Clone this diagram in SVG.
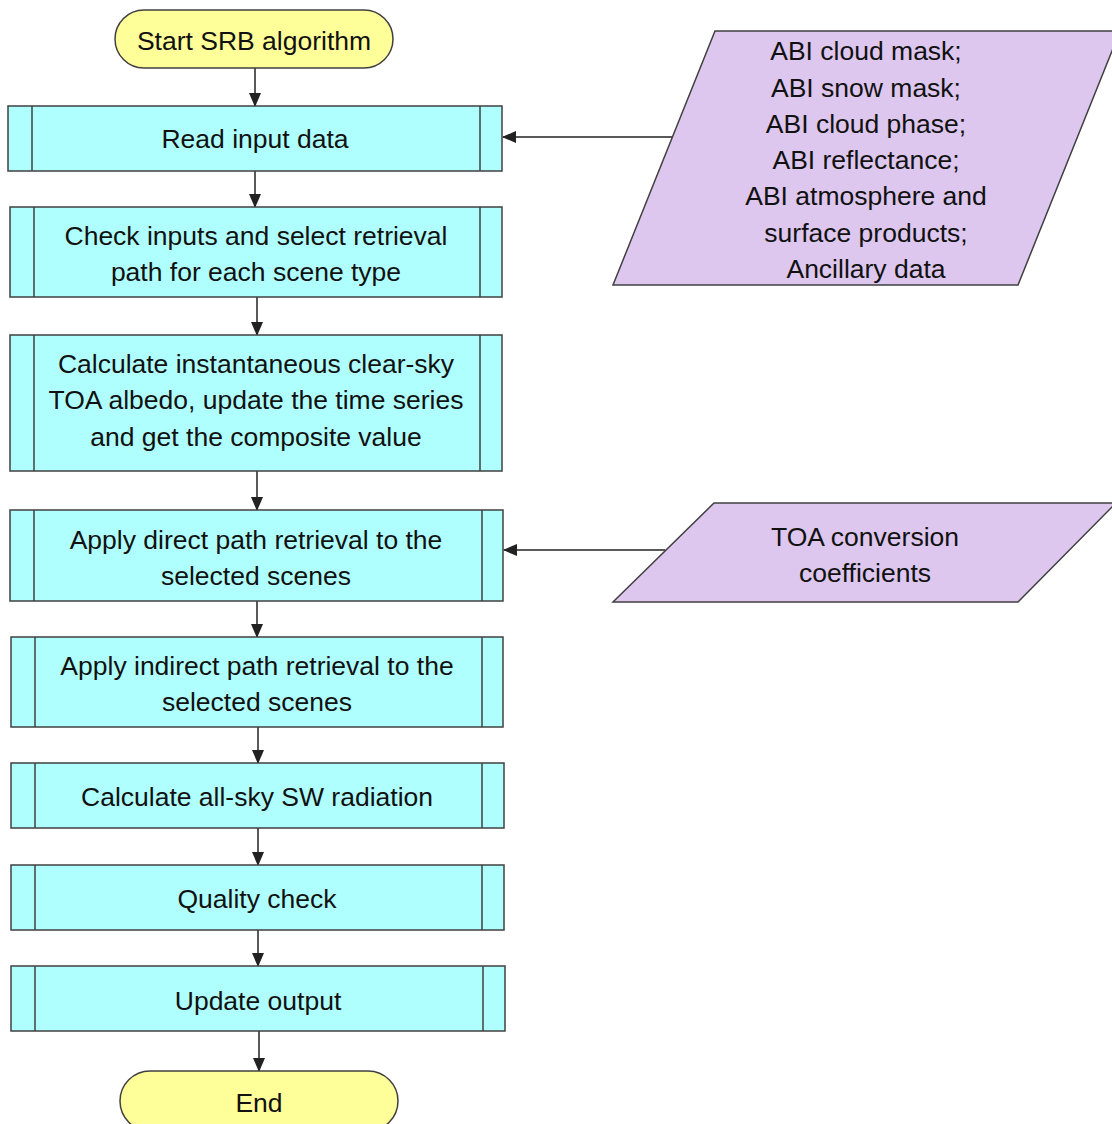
<svg xmlns="http://www.w3.org/2000/svg" width="1112" height="1124" viewBox="0 0 1112 1124">
<defs>
<marker id="ah" markerWidth="14" markerHeight="14" refX="13" refY="7" orient="auto" markerUnits="userSpaceOnUse">
<path d="M0,1 L14,7 L0,13 Z" fill="#222"/>
</marker>
<style>
.t{font-family:"Liberation Sans",Arial,sans-serif;font-size:26.5px;fill:#111;text-anchor:middle}
.proc{fill:#B0FFFF;stroke:#404040;stroke-width:1.5}
.term{fill:#FFFF99;stroke:#404040;stroke-width:1.5}
.io{fill:#DDC7EE;stroke:#404040;stroke-width:1.5}
.ln{stroke:#404040;stroke-width:1.5;fill:none}
.c{stroke:#222;stroke-width:1.5;fill:none;marker-end:url(#ah)}
</style>
</defs>
<rect width="1112" height="1124" fill="#fff"/>
<g id="connectors">
<line class="c" x1="255" y1="68" x2="255" y2="106"/>
<line class="c" x1="255" y1="171" x2="255" y2="207"/>
<line class="c" x1="257" y1="297" x2="257" y2="335"/>
<line class="c" x1="257" y1="471" x2="257" y2="510"/>
<line class="c" x1="257" y1="601" x2="257" y2="637"/>
<line class="c" x1="258" y1="727" x2="258" y2="763"/>
<line class="c" x1="258" y1="828" x2="258" y2="865"/>
<line class="c" x1="258" y1="930" x2="258" y2="966"/>
<line class="c" x1="259" y1="1031" x2="259" y2="1071"/>
<line class="c" x1="672" y1="137" x2="503" y2="137"/>
<line class="c" x1="665" y1="550" x2="504" y2="550"/>
</g>
<g id="start">
<rect class="term" x="115" y="10" width="278" height="58" rx="29" ry="29"/>
<text class="t" x="254" y="50">Start SRB algorithm</text>
</g>
<g id="read">
<rect class="proc" x="8" y="106" width="494" height="65"/>
<line class="ln" x1="32" y1="106" x2="32" y2="171"/>
<line class="ln" x1="480" y1="106" x2="480" y2="171"/>
<text class="t" x="255" y="148">Read input data</text>
</g>
<g id="check">
<rect class="proc" x="10" y="207" width="492" height="90"/>
<line class="ln" x1="34" y1="207" x2="34" y2="297"/>
<line class="ln" x1="480" y1="207" x2="480" y2="297"/>
<text class="t" x="256" y="245">Check inputs and select retrieval</text>
<text class="t" x="256" y="281">path for each scene type</text>
</g>
<g id="calc">
<rect class="proc" x="10" y="335" width="492" height="136"/>
<line class="ln" x1="34" y1="335" x2="34" y2="471"/>
<line class="ln" x1="480" y1="335" x2="480" y2="471"/>
<text class="t" x="256" y="373">Calculate instantaneous clear-sky</text>
<text class="t" x="256" y="409">TOA albedo, update the time series</text>
<text class="t" x="256" y="446">and get the composite value</text>
</g>
<g id="direct">
<rect class="proc" x="10" y="510" width="493" height="91"/>
<line class="ln" x1="34" y1="510" x2="34" y2="601"/>
<line class="ln" x1="482" y1="510" x2="482" y2="601"/>
<text class="t" x="256" y="549">Apply direct path retrieval to the</text>
<text class="t" x="256" y="585">selected scenes</text>
</g>
<g id="indirect">
<rect class="proc" x="11" y="637" width="492" height="90"/>
<line class="ln" x1="35" y1="637" x2="35" y2="727"/>
<line class="ln" x1="482" y1="637" x2="482" y2="727"/>
<text class="t" x="257" y="675">Apply indirect path retrieval to the</text>
<text class="t" x="257" y="711">selected scenes</text>
</g>
<g id="allsky">
<rect class="proc" x="11" y="763" width="493" height="65"/>
<line class="ln" x1="35" y1="763" x2="35" y2="828"/>
<line class="ln" x1="482" y1="763" x2="482" y2="828"/>
<text class="t" x="257" y="806">Calculate all-sky SW radiation</text>
</g>
<g id="quality">
<rect class="proc" x="11" y="865" width="493" height="65"/>
<line class="ln" x1="35" y1="865" x2="35" y2="930"/>
<line class="ln" x1="482" y1="865" x2="482" y2="930"/>
<text class="t" x="257" y="908">Quality check</text>
</g>
<g id="update">
<rect class="proc" x="11" y="966" width="494" height="65"/>
<line class="ln" x1="35" y1="966" x2="35" y2="1031"/>
<line class="ln" x1="483" y1="966" x2="483" y2="1031"/>
<text class="t" x="258" y="1010">Update output</text>
</g>
<g id="end">
<rect class="term" x="120" y="1071" width="278" height="60" rx="30" ry="30"/>
<text class="t" x="259" y="1112">End</text>
</g>
<g id="inputs">
<polygon class="io" points="715,31 1120,31 1018,285 613,285"/>
<text class="t" x="866" y="60">ABI cloud mask;</text>
<text class="t" x="866" y="97">ABI snow mask;</text>
<text class="t" x="866" y="133">ABI cloud phase;</text>
<text class="t" x="866" y="169">ABI reflectance;</text>
<text class="t" x="866" y="205">ABI atmosphere and</text>
<text class="t" x="866" y="242">surface products;</text>
<text class="t" x="866" y="278">Ancillary data</text>
</g>
<g id="toa">
<polygon class="io" points="714,503 1116,503 1018,602 613,602"/>
<text class="t" x="865" y="546">TOA conversion</text>
<text class="t" x="865" y="582">coefficients</text>
</g>
</svg>
